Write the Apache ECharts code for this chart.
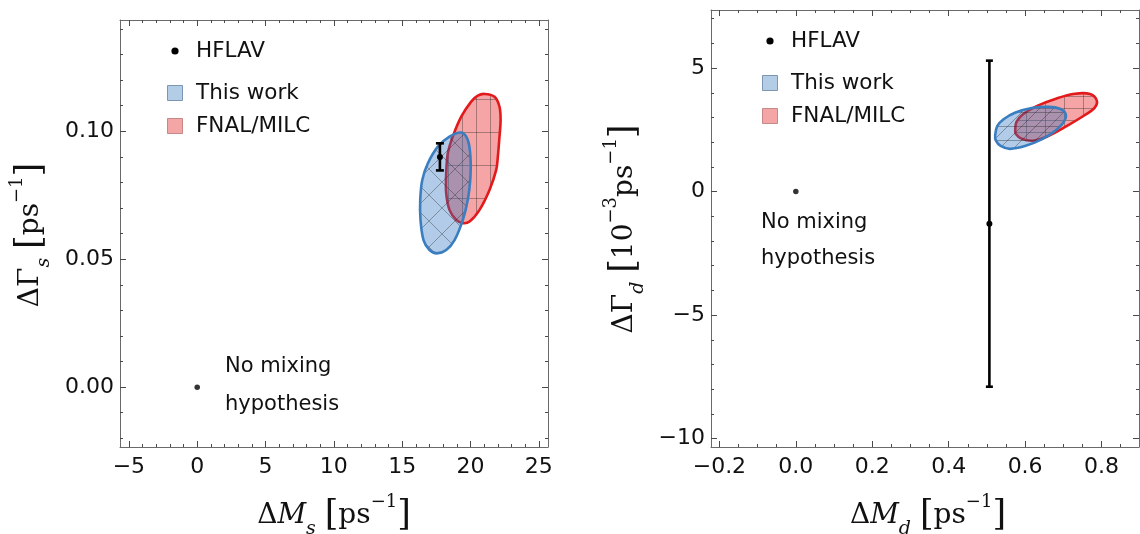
<!DOCTYPE html>
<html><head><meta charset="utf-8">
<script src="https://cdn.jsdelivr.net/npm/echarts@6/dist/echarts.min.js"></script>
<style>html,body{margin:0;padding:0;background:#fff}#c{width:1140px;height:534px}</style>
</head><body><div id="c"></div><script>
// ---------- data: B_s panel ----------
const sXTicks = [-5, 0, 5, 10, 15, 20, 25];
const sXMinor = [-4,-3,-2,-1,1,2,3,4,6,7,8,9,11,12,13,14,16,17,18,19,21,22,23,24];
const sYTicks = [0, 0.05, 0.10];
const sYMinor = [-0.02,-0.01,0.01,0.02,0.03,0.04,0.06,0.07,0.08,0.09,0.11,0.12,0.13,0.14];
const sBlueX = [19.32,19.80,20.00,19.98,19.80,19.44,18.83,18.22,17.53,17.00,16.56,16.34,16.32,16.47,16.88,17.61,18.46];
const sBlueY = [0.0995,0.0966,0.0895,0.0810,0.0732,0.0654,0.0575,0.0536,0.0523,0.0536,0.0575,0.0654,0.0732,0.0810,0.0875,0.0940,0.0979];
const sRedX = [21.02,21.76,22.12,22.20,22.12,22.00,21.88,21.39,20.66,19.93,19.44,18.95,18.46,18.22,18.22,18.34,18.70,19.32,20.05,20.53];
const sRedY = [0.1146,0.1135,0.1096,0.1044,0.0979,0.0901,0.0849,0.0771,0.0693,0.0647,0.0641,0.0654,0.0693,0.0758,0.0836,0.0914,0.0979,0.1057,0.1116,0.1139];
const sHflav = [17.76, 0.090, 0.0053];   // x, y, error
const sNoMix = [0, 0];

// ---------- data: B_d panel ----------
const dXTicks = [-0.2, 0, 0.2, 0.4, 0.6, 0.8];
const dXMinor = [-0.15,-0.1,-0.05,0.05,0.1,0.15,0.25,0.3,0.35,0.45,0.5,0.55,0.65,0.7,0.75,0.85];
const dYTicks = [-10, -5, 0, 5];
const dYMinor = [-9,-8,-7,-6,-4,-3,-2,-1,1,2,3,4,6,7];
const dBlueX = [0.5217,0.5270,0.5427,0.5733,0.6170,0.6605,0.6911,0.7060,0.7016,0.6780,0.6432,0.5995,0.5602,0.5359,0.5236];
const dBlueY = [2.29,2.65,2.92,3.19,3.38,3.43,3.35,3.14,2.83,2.45,2.11,1.84,1.73,1.85,2.06];
const dRedX = [0.5741,0.5777,0.5950,0.6301,0.6825,0.7304,0.7696,0.7872,0.7827,0.7565,0.7086,0.6605,0.6212,0.5908,0.5759];
const dRedY = [2.52,2.83,3.14,3.46,3.77,3.96,3.95,3.70,3.41,3.10,2.65,2.25,2.06,2.14,2.33];
const dHflav = [0.5065, -1.3, 6.6];
const dNoMix = [0, 0];

const legendNames = ['HFLAV', 'This work', 'FNAL/MILC'];
const noMixLines = ['No mixing', 'hypothesis'];

// ---------- styling helpers ----------
const SANS = 'DejaVu Sans';
const SERIF = 'DejaVu Serif';
const FRAME = '#6a6a6a';
const TICK = '#4a4a4a';
const BLUE_FILL = 'rgba(40,110,190,0.36)';
const RED_FILL = 'rgba(232,40,40,0.42)';
const BLUE_LINE = '#3a7ec0';
const RED_LINE = '#e31a1c';

function makePattern(fill, kind, w, h) {
  const c = document.createElement('canvas');
  c.width = w; c.height = h;
  const g = c.getContext('2d');
  g.fillStyle = fill; g.fillRect(0, 0, w, h);
  g.strokeStyle = 'rgba(30,30,30,0.45)'; g.lineWidth = 0.8;
  g.beginPath();
  if (kind === 'grid') { g.moveTo(0.5, 0); g.lineTo(0.5, h); g.moveTo(0, 0.5); g.lineTo(w, 0.5); }
  if (kind === 'cross') { g.moveTo(0, 0); g.lineTo(w, h); g.moveTo(w, 0); g.lineTo(0, h); }
  if (kind === 'diag') { g.moveTo(0, h); g.lineTo(w, 0); g.moveTo(0, 0.5); g.lineTo(w, 0.5); }
  g.stroke();
  return { image: c, repeat: 'repeat' };
}

const minus = s => s.replace('-', '\u2212');

function axisPair(gridIndex, pos, min, max, ticks, minor, fmt, isX) {
  const major = {
    type: 'value', gridIndex, position: pos, min, max,
    splitLine: { show: false },
    axisLine: { show: true, onZero: false, lineStyle: { color: FRAME, width: 1 } },
    axisTick: { show: true, inside: true, length: 6, customValues: ticks, lineStyle: { color: TICK, width: 1 } },
    axisLabel: { show: !!fmt, customValues: ticks, formatter: fmt || (() => ''), margin: isX ? 9 : 6,
      fontFamily: SANS, fontSize: 22, color: '#111' }
  };
  const mn = {
    type: 'value', gridIndex: gridIndex + 1, position: pos, min, max,
    splitLine: { show: false },
    axisLine: { show: false, onZero: false },
    axisTick: { show: true, inside: true, length: 3, customValues: minor, lineStyle: { color: TICK, width: 1 } },
    axisLabel: { show: false }
  };
  return [major, mn];
}

const sXRange = [-5.65, 25.67], sYRange = [-0.0234, 0.1435];
const dXRange = [-0.222, 0.898], dYRange = [-10.34, 7.35];

const fmtSX = v => minus(String(v));
const fmtSY = v => v.toFixed(2);
const fmtDX = v => minus(v.toFixed(1));
const fmtDY = v => minus(String(v));

const [sxB, sxBm] = axisPair(0, 'bottom', sXRange[0], sXRange[1], sXTicks, sXMinor, fmtSX, true);
const [sxT, sxTm] = axisPair(0, 'top', sXRange[0], sXRange[1], sXTicks, sXMinor, null, true);
const [syL, syLm] = axisPair(0, 'left', sYRange[0], sYRange[1], sYTicks, sYMinor, fmtSY, false);
const [syR, syRm] = axisPair(0, 'right', sYRange[0], sYRange[1], sYTicks, sYMinor, null, false);
const [dxB, dxBm] = axisPair(2, 'bottom', dXRange[0], dXRange[1], dXTicks, dXMinor, fmtDX, true);
const [dxT, dxTm] = axisPair(2, 'top', dXRange[0], dXRange[1], dXTicks, dXMinor, null, true);
const [dyL, dyLm] = axisPair(2, 'left', dYRange[0], dYRange[1], dYTicks, dYMinor, fmtDY, false);
const [dyR, dyRm] = axisPair(2, 'right', dYRange[0], dYRange[1], dYTicks, dYMinor, null, false);

const xAxes = [sxB, sxT, sxBm, sxTm, dxB, dxT, dxBm, dxTm];
const yAxes = [syL, syR, syLm, syRm, dyL, dyR, dyLm, dyRm];

function region(name, xs, ys, fill, stroke, ax) {
  return {
    type: 'custom', name, xAxisIndex: ax, yAxisIndex: ax, silent: true,
    data: xs.map((x, i) => [x, ys[i]]),
    renderItem: (params, api) => {
      if (params.dataIndex !== 0) return null;
      const pts = xs.map((x, i) => api.coord([x, ys[i]]));
      return { type: 'polygon', shape: { points: pts, smooth: 0.35 },
        style: { fill, stroke, lineWidth: 2.6 } };
    }
  };
}

function errBar(name, d, capHalf, ax) {
  return {
    type: 'custom', name, xAxisIndex: ax, yAxisIndex: ax, silent: true,
    data: [d],
    renderItem: (params, api) => {
      const x = api.value(0), y = api.value(1), e = api.value(2);
      const t = api.coord([x, y + e]), b = api.coord([x, y - e]), m = api.coord([x, y]);
      const st = { stroke: '#000', lineWidth: 2.6 };
      return { type: 'group', children: [
        { type: 'line', shape: { x1: t[0], y1: t[1], x2: b[0], y2: b[1] }, style: st },
        { type: 'line', shape: { x1: t[0] - capHalf, y1: t[1], x2: t[0] + capHalf, y2: t[1] }, style: st },
        { type: 'line', shape: { x1: b[0] - capHalf, y1: b[1], x2: b[0] + capHalf, y2: b[1] }, style: st },
        { type: 'circle', shape: { cx: m[0], cy: m[1], r: 3 }, style: { fill: '#000' } }
      ] };
    }
  };
}

function pointSeries(p, ax) {
  return { type: 'scatter', xAxisIndex: ax, yAxisIndex: ax, silent: true,
    symbol: 'circle', symbolSize: 5.5, itemStyle: { color: '#000' }, data: [p] };
}

const series = [
  region('FNAL/MILC', sRedX, sRedY, makePattern(RED_FILL, 'grid', 14, 33), RED_LINE, 0),
  region('This work', sBlueX, sBlueY, makePattern(BLUE_FILL, 'cross', 26, 26), BLUE_LINE, 0),
  errBar('HFLAV', sHflav, 4, 0),
  pointSeries(sNoMix, 0),
  region('FNAL/MILC', dRedX, dRedY, makePattern(RED_FILL, 'grid', 19, 12), RED_LINE, 4),
  region('This work', dBlueX, dBlueY, makePattern(BLUE_FILL, 'diag', 14, 14), BLUE_LINE, 4),
  errBar('HFLAV', dHflav, 3.5, 4),
  pointSeries(dNoMix, 4)
];

// ---------- text / legend graphics ----------
const rich = {
  a: { fontFamily: SERIF, fontSize: 28, lineHeight: 46, fill: '#111', verticalAlign: 'middle' },
  i: { fontFamily: SERIF, fontStyle: 'italic', fontSize: 28, lineHeight: 46, fill: '#111', verticalAlign: 'middle' },
  sub: { fontFamily: SERIF, fontStyle: 'italic', fontSize: 19, lineHeight: 32, fill: '#111', verticalAlign: 'bottom' },
  sup: { fontFamily: SERIF, fontSize: 18, lineHeight: 28, fill: '#111', verticalAlign: 'top' },
  br: { fontFamily: SERIF, fontSize: 35, lineHeight: 46, fill: '#111', verticalAlign: 'middle' }
};
function title(text, x, y, rot) {
  return { type: 'text', x, y, rotation: rot || 0, silent: true,
    style: { text, rich, textAlign: 'center', textVerticalAlign: 'middle' } };
}
function txt(text, x, y, size) {
  return { type: 'text', x, y, silent: true,
    style: { text, fontFamily: SANS, fontSize: size, fill: '#111', textAlign: 'left', textVerticalAlign: 'middle' } };
}
function legendBlock(x0, yDot, ySq1, ySq2) {
  return [
    { type: 'circle', shape: { cx: x0, cy: yDot, r: 3.6 }, style: { fill: '#000' }, silent: true },
    txt(legendNames[0], x0 + 21, yDot, 21.5),
    { type: 'rect', shape: { x: x0 - 7.5, y: ySq1 - 7.5, width: 15, height: 15 },
      style: { fill: 'rgb(180,205,230)', stroke: 'rgb(125,150,180)', lineWidth: 1 }, silent: true },
    txt(legendNames[1], x0 + 21, ySq1, 21.5),
    { type: 'rect', shape: { x: x0 - 7.5, y: ySq2 - 7.5, width: 15, height: 15 },
      style: { fill: 'rgb(244,165,165)', stroke: 'rgb(200,135,135)', lineWidth: 1 }, silent: true },
    txt(legendNames[2], x0 + 21, ySq2, 21.5)
  ];
}

const graphics = [
  title('{a|Δ}{i|M}{sub|s}{a| }{br|[}{a|ps}{sup|−1}{br|]}', 334, 516),
  title('{a|ΔΓ}{sub|s}{a| }{br|[}{a|ps}{sup|−1}{br|]}', 31, 235, Math.PI / 2),
  title('{a|Δ}{i|M}{sub|d}{a| }{br|[}{a|ps}{sup|−1}{br|]}', 928, 516),
  title('{a|ΔΓ}{sub|d}{a| }{br|[}{a|10}{sup|−3}{a|ps}{sup|−1}{br|]}', 625, 229, Math.PI / 2),
  ...legendBlock(175, 51, 93, 126),
  ...legendBlock(770, 41, 83, 116),
  txt(noMixLines[0], 225, 367, 21),
  txt(noMixLines[1], 225, 405, 21),
  txt(noMixLines[0], 761, 223, 21),
  txt(noMixLines[1], 761, 259, 21)
];

const chart = echarts.init(document.getElementById('c'), null, { renderer: 'canvas' });
chart.setOption({
  backgroundColor: '#fff',
  animation: false,
  grid: [
    { left: 120, top: 20, width: 428, height: 427 },
    { left: 120, top: 20, width: 428, height: 427 },
    { left: 711, top: 10, width: 428, height: 437 },
    { left: 711, top: 10, width: 428, height: 437 }
  ],
  xAxis: xAxes,
  yAxis: yAxes,
  series,
  graphic: graphics
});
</script></body></html>
